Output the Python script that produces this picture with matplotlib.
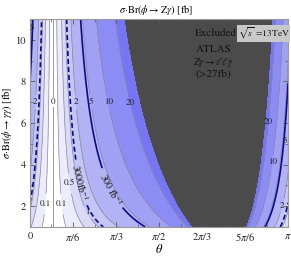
import numpy as np
import matplotlib
matplotlib.use("Agg")
from matplotlib import pyplot as plt
from matplotlib.ticker import MultipleLocator

plt.rcParams['font.family'] = ['STIXGeneral', 'DejaVu Serif']
plt.rcParams['mathtext.fontset'] = 'stix'

# ratio sigma.Br(Zgamma)/sigma.Br(gammagamma) = K sin^2(t-t0)/sin^2(t-tp)
theta_zero = 0.0895 * np.pi   # Z gamma rate vanishes here
theta_pole = 0.75 * np.pi     # gamma gamma rate vanishes here
ratio_scale = 3.6

# contour levels of sigma.Br(phi->Z gamma) in fb
fill_levels = [0, 0.1, 0.5, 1, 2, 5, 10, 20, 27, 1e9]
fill_colors = ['#ffffff', '#ececfc', '#dadaf8', '#c6c6f6', '#b2b2f4',
               '#a0a0f4', '#8c8cf5', '#7676f4', '#4b4b4b']
line_levels = [0.1, 0.5, 1, 2, 5, 10, 20]
reach_300 = 4.4    # fb, 300 fb^-1 projection
reach_3000 = 1.2   # fb, 3000 fb^-1 projection

x_ticks = [0, np.pi/6, np.pi/3, np.pi/2, 2*np.pi/3, 5*np.pi/6, np.pi]
x_ticklabels = ['0', r'$\pi/6$', r'$\pi/3$', r'$\pi/2$', r'$2\pi/3$', r'$5\pi/6$', r'$\pi$']
y_ticks = [2, 4, 6, 8, 10]

# label spots (theta, sigma_gammagamma)
label_spots = [(0.061, 7.0), (0.562, 7.0), (0.746, 7.0), (0.966, 7.0),
               (1.259, 7.0), (0.183, 2.1), (0.391, 2.1), (0.489, 3.1), (0.697, 1.7),
               (2.909, 6.05), (2.970, 4.1), (3.093, 2.0)]
# labels of the 5 fb contour that sits on the navy line at the plot edges
edge_labels = ['5', '5']
edge_spots = [(0.02, 10.55), (3.10, 5.15)]

th = np.linspace(0, np.pi, 700)
sg = np.linspace(1, 11, 300)
TH, SG = np.meshgrid(th, sg)
den = np.sin(TH - theta_pole)**2 + 1e-12
Z = SG * ratio_scale * np.sin(TH - theta_zero)**2 / den

fig = plt.figure(figsize=(2.91, 2.57), dpi=100)
ax = fig.add_axes([0.103, 0.117, 0.887, 0.809])

ax.contourf(TH, SG, Z, levels=fill_levels, colors=fill_colors)
cs = ax.contour(TH, SG, Z, levels=line_levels, colors='#8a8a9a', linewidths=0.5)
labels = ax.clabel(cs, fmt='%g', fontsize=6.5, colors='#222222', manual=label_spots, inline=True)
for t in labels:
    t.set_rotation(0)
    t.set_zorder(6)
ax.axvline(theta_zero, color='#8a8a9a', lw=0.6)
ax.text(theta_zero, 7.0, '0', fontsize=6.5, ha='center', va='center', color='#222222',
        bbox=dict(facecolor='white', edgecolor='none', pad=0.3))

c300 = ax.contour(TH, SG, Z, levels=[reach_300], colors='#0a0a8c', linewidths=1.2)
c3000 = ax.contour(TH, SG, Z, levels=[reach_3000], colors='#0a0a8c', linewidths=1.2,
                   linestyles=[(0, (3, 1.8))])
ax.clabel(c300, fmt={reach_300: r'300 fb$^{-1}$'}, fontsize=7, colors='#111111',
          manual=[(1.10, 3.07)], inline=True)
ax.clabel(c3000, fmt={reach_3000: r'3000fb$^{-1}$'}, fontsize=7, colors='#111111',
          manual=[(0.758, 3.26)], inline=True)
for lab, (tx, ty) in zip(edge_labels, edge_spots):
    ax.text(tx, ty, lab, fontsize=6.5, ha='center', va='center', color='#222222', zorder=6)

ax.set_xlim(0, np.pi)
ax.set_ylim(1, 11)
ax.set_xticks(x_ticks)
ax.set_xticklabels(x_ticklabels)
ax.set_yticks(y_ticks)
ax.xaxis.set_minor_locator(MultipleLocator(np.pi/12))
ax.yaxis.set_minor_locator(MultipleLocator(1))
ax.tick_params(which='both', direction='in', top=True, right=True, labelsize=7.5,
               color='#555555', labelcolor='#222222', pad=3)
ax.tick_params(which='major', length=3.5, width=0.6)
ax.tick_params(which='minor', length=2, width=0.5)
for s in ax.spines.values():
    s.set_color('#999999')
    s.set_linewidth(0.8)

ax.set_xlabel(r'$\theta$', fontsize=9, labelpad=0)
ax.set_ylabel(r'$\sigma$$\cdot$Br($\phi$$\to$$\gamma\gamma$) [fb]', fontsize=7.5, labelpad=1)
fig.text(0.535, 0.962, r'$\sigma$$\cdot$Br($\phi$$\to$Z$\gamma$) [fb]', fontsize=7.5,
         ha='center', va='center')

ax.text(0.72, 0.93, 'Excluded', transform=ax.transAxes, fontsize=8, ha='center', va='center', color='#111111')
ax.text(0.71, 0.855, 'ATLAS', transform=ax.transAxes, fontsize=8, ha='center', va='center', color='#111111')
ax.text(0.71, 0.79, r'$Z\gamma\to\ell\ell\gamma$', transform=ax.transAxes, fontsize=7.5, ha='center', va='center', color='#111111')
ax.text(0.71, 0.735, '(>27fb)', transform=ax.transAxes, fontsize=8, ha='center', va='center', color='#111111')
ax.text(0.905, 0.93, r'$\sqrt{s}$ =13TeV', transform=ax.transAxes, fontsize=6.8, ha='center', va='center',
        color='#111111', bbox=dict(facecolor='#c8c8c8', edgecolor='none', pad=0.6))

fig.savefig('out.png', dpi=100)
